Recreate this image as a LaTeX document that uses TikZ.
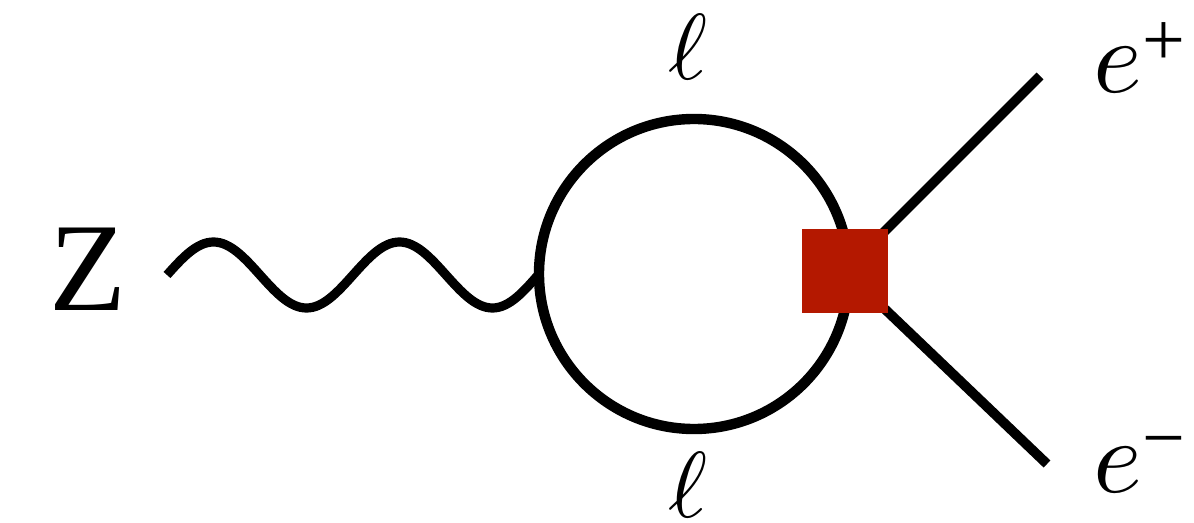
\documentclass[tikz,border=0pt]{standalone}
\usepackage{fontspec}
\setmainfont{Liberation Serif}
\usepackage{graphicx}
\usepackage{tikz}
\definecolor{vtxred}{RGB}{180,24,0}
\newcommand{\lepsup}[2]{\raisebox{#1}{\fontsize{38}{40}\selectfont #2}}
\newcommand{\lepe}{\resizebox{!}{22.5pt}{$e$}}
\newcommand{\loopell}{\resizebox{!}{32.5pt}{$\ell$}}

\begin{document}
\begin{tikzpicture}[
  x=0.5pt,y=-0.5pt,
  prop/.style={line width=4.9pt,black},
  boson/.style={line width=4.6pt,black},
  loopring/.style={circle,draw,line width=5.2pt,minimum size=155pt,inner sep=0pt,outer sep=0pt},
  vertex/.style={rectangle,fill=vtxred,minimum width=43pt,minimum height=42pt,inner sep=0pt},
  lbl/.style={inner sep=0pt}
]
\useasboundingbox (0,0) rectangle (1194,523);
\node[loopring] (loop) at (694,274) {};
\coordinate (zin) at (167,275);
\coordinate (v) at (845,271);
\coordinate (eplus) at (1040,76);
\coordinate (eminus) at (1047,464);

% photon into the loop
\draw[boson] (zin) sin ++(46.5,-33) cos ++(46.5,33) sin ++(46.5,33) cos ++(46.5,-33)
  sin ++(46.5,-33) cos ++(46.5,33) sin ++(46.5,33) cos (loop.west);
\draw[prop] (v) -- (eplus);
\draw[prop] (v) -- (eminus);
\node[vertex] (vtx) at (v) {};

\node[inner sep=0pt,font=\fontsize{63}{75}\selectfont] (zlbl) at (88,269) {Z};
\node[lbl] (ltop) at (688,47) {\loopell};
\node[lbl] (lbot) at (688,485) {\loopell};
\node[lbl,anchor=base west] (ep) at (1093,93) {\lepe\lepsup{13.5pt}{+}};
\node[lbl,anchor=base west] (em) at (1093,493) {\lepe\lepsup{14.5pt}{−}};
\end{tikzpicture}
\end{document}
